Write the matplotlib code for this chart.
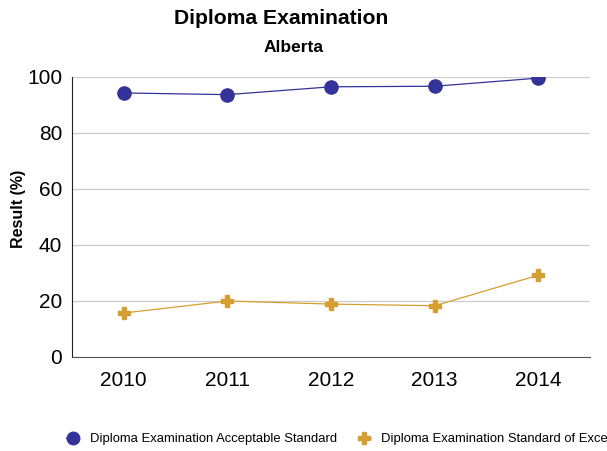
import matplotlib.pyplot as plt
from matplotlib.lines import Line2D

plt.rcParams['font.family'] = ['Liberation Sans', 'DejaVu Sans']

years = ['2010', '2011', '2012', '2013', '2014']
acceptable = [94.3, 93.7, 96.5, 96.7, 99.6]
excellence = [15.7, 20.0, 18.9, 18.3, 29.2]

blue = '#333399'
gold = '#D49F30'

fig = plt.figure(figsize=(6.07, 4.51), dpi=100)
ax = fig.add_axes([72 / 607, 1 - 357 / 451, (590 - 72) / 607, (357 - 77) / 451])

x = range(len(years))
ax.plot(x, acceptable, color=blue, lw=0.9, marker='o', ms=9.5, mec=blue, zorder=3)
ax.plot(x, excellence, color=gold, lw=0.9, marker='P', ms=9, mec=gold, zorder=3)

ax.set_xlim(-0.5, 4.5)
ax.set_ylim(0, 100)
ax.set_xticks(list(x))
ax.set_xticklabels(years)
ax.set_yticks(range(0, 101, 20))
ax.tick_params(axis='both', length=0, labelsize=15)
ax.tick_params(axis='x', pad=10)
ax.tick_params(axis='y', pad=7)
ax.yaxis.grid(True, color='#cccccc', lw=0.9)
ax.set_axisbelow(True)
for s in ['top', 'right']:
    ax.spines[s].set_visible(False)
ax.spines['left'].set_color('#222222')
ax.spines['bottom'].set_color('#555555')
ax.set_ylabel('Result (%)', fontsize=11.5, fontweight='bold')
ax.yaxis.set_label_coords((26 - 72) / 518, (357 - 209) / 280)

fig.text(281 / 607, 1 - 19 / 451, 'Diploma Examination', ha='center', va='center',
         fontsize=15.2, fontweight='bold')
fig.text(294 / 607, 1 - 47 / 451, 'Alberta', ha='center', va='center',
         fontsize=12.5, fontweight='bold')

handles = [
    Line2D([], [], color=blue, lw=0.9, marker='o', ms=9, mec=blue),
    Line2D([], [], color=gold, lw=0.9, marker='P', ms=8, mec=gold),
]
labels = ['Diploma Examination Acceptable Standard',
          'Diploma Examination Standard of Excellence']
fig.legend(handles, labels, loc='center left', bbox_to_anchor=(66 / 607, 1 - 439 / 451),
           ncol=2, frameon=False, fontsize=9.4, handlelength=1.0, handletextpad=0.8,
           columnspacing=1.6, borderaxespad=0, borderpad=0)

fig.savefig('out.png', dpi=100)
